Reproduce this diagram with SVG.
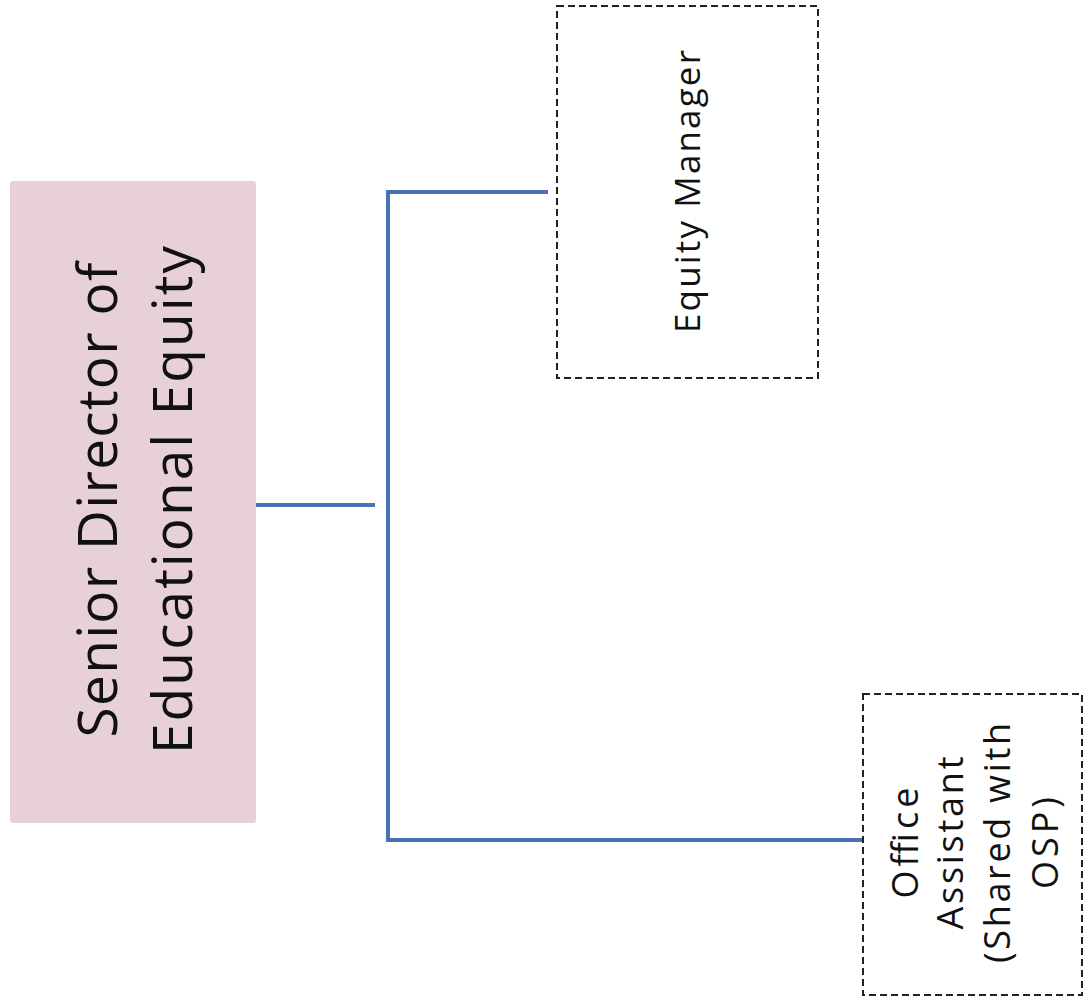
<svg xmlns="http://www.w3.org/2000/svg" width="1090" height="1003" viewBox="0 0 1090 1003">
<style>
.conn{stroke:#4a73b3;stroke-width:4;fill:none;stroke-linecap:butt}
.dash{fill:#ffffff;stroke:#222;stroke-width:2;stroke-dasharray:7 4}
.t{font-family:"Open Sans","Liberation Sans",sans-serif;fill:#111;text-anchor:middle}
</style>
<rect width="1090" height="1003" fill="#ffffff"/>
<g id="connectors">
<line class="conn" x1="256" y1="505" x2="375" y2="505"/>
<path class="conn" d="M548 192 H388 V840 H862"/>
</g>
<g id="senior-director">
<rect x="10" y="181" width="246" height="642" rx="3" fill="#e8d0db"/>
<text class="t" font-size="55" transform="translate(150 500) rotate(-90)"><tspan x="0" y="-33" textLength="475" lengthAdjust="spacing">Senior Director of</tspan><tspan x="0" y="42" textLength="508" lengthAdjust="spacing">Educational Equity</tspan></text>
</g>
<g id="equity-manager">
<rect class="dash" x="557" y="6" width="261" height="372"/>
<text class="t" font-size="35" transform="translate(700 191.5) rotate(-90)" x="0" y="0" textLength="283" lengthAdjust="spacing">Equity Manager</text>
</g>
<g id="office-assistant">
<rect class="dash" x="863" y="694" width="219" height="301"/>
<text class="t" font-size="36" transform="translate(963 843) rotate(-90)"><tspan x="0" y="-45" textLength="111" lengthAdjust="spacing">Office</tspan><tspan x="0" y="0" textLength="173" lengthAdjust="spacing">Assistant</tspan><tspan x="0" y="47" textLength="240" lengthAdjust="spacing">(Shared with</tspan><tspan x="0" y="95" textLength="92" lengthAdjust="spacing">OSP)</tspan></text>
</g>
</svg>
